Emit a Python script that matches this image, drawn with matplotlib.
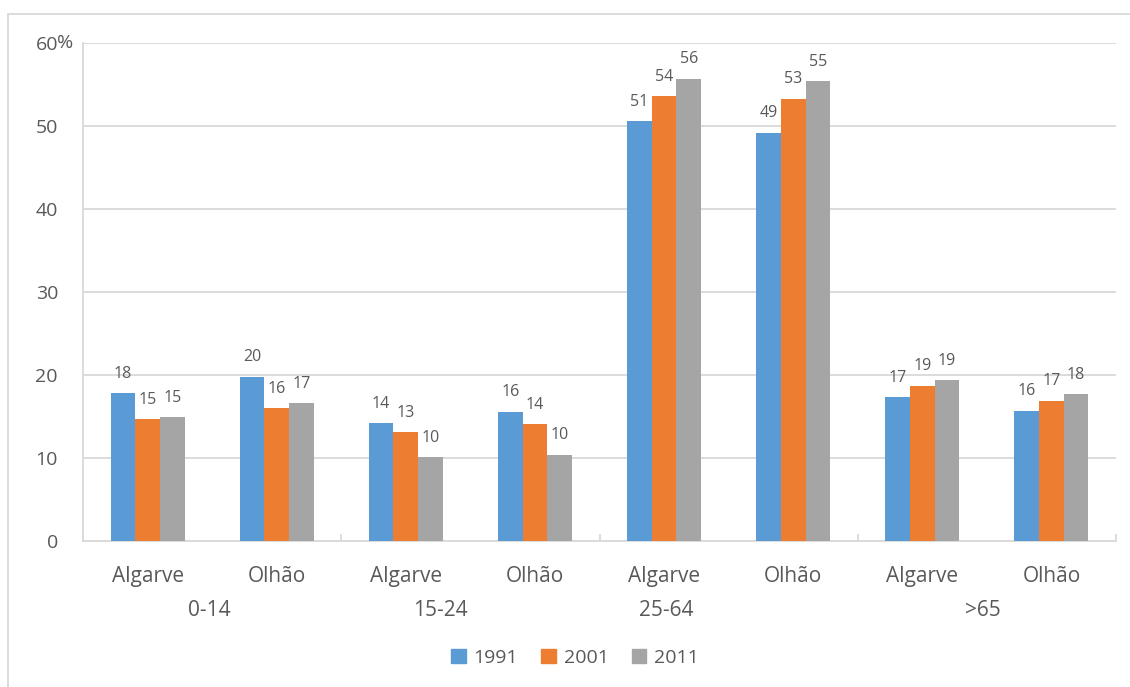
import numpy as np
import matplotlib
matplotlib.use('Agg')
import matplotlib.pyplot as plt
from matplotlib.patches import Patch, Rectangle
import matplotlib.transforms as mtransforms

plt.rcParams['font.family'] = ['Open Sans', 'DejaVu Sans']

# Data
categories = ['Algarve', 'Olhão', 'Algarve', 'Olhão', 'Algarve', 'Olhão', 'Algarve', 'Olhão']
groups = ['0-14', '15-24', '25-64', '>65']
group_label_x = [0.98, 2.77, 4.52, 6.97]   # where the group labels sit (category units)
years = ['1991', '2001', '2011']
v1991 = [17.8, 19.8, 14.2, 15.6, 50.6, 49.2, 17.3, 15.7]
v2001 = [14.7, 16.0, 13.1, 14.1, 53.6, 53.3, 18.7, 16.9]
v2011 = [14.9, 16.6, 10.1, 10.4, 55.7, 55.4, 19.4, 17.7]
colors = ['#5B9BD5', '#ED7D31', '#A5A5A5']

text_col = '#595959'
grid_col = '#D9D9D9'

W, H = 1130, 687
fig = plt.figure(figsize=(W / 100, H / 100), dpi=100)
ax = fig.add_axes([83 / W, 1 - 541 / H, (1116 - 83) / W, (541 - 43) / H])

x = np.arange(len(categories)) + 0.5
w = 0.191
for i, (yr, vals) in enumerate(zip(years, [v1991, v2001, v2011])):
    pos = x + (i - 1) * w
    ax.bar(pos, vals, w, color=colors[i], linewidth=0, zorder=3)
    for px, v in zip(pos, vals):
        ax.annotate(f'{v:.0f}', (px, v), xytext=(0, 14), textcoords='offset points',
                    ha='center', va='center', fontsize=11.5, color=text_col)

ax.set_xlim(0, 8)
ax.set_ylim(0, 60)
ax.set_yticks(range(0, 61, 10))
ax.set_yticklabels([str(t) for t in range(0, 61, 10)])
ax.tick_params(axis='y', length=0, pad=18, labelsize=14, labelcolor=text_col)
ax.annotate('%', (0, 60), xytext=(-26, 0), textcoords='offset pixels',
            xycoords=('axes fraction', 'data'), ha='left', va='center',
            fontsize=14, color=text_col)

ax.set_xticks(x)
ax.set_xticklabels(categories)
ax.tick_params(axis='x', which='major', length=0, pad=18, labelsize=15, labelcolor=text_col)
ax.set_xticks([0, 2, 4, 6, 8], minor=True)
ax.tick_params(axis='x', which='minor', direction='in', length=5, width=1.3, color=grid_col)

trans = mtransforms.blended_transform_factory(ax.transData, ax.transAxes)
for gx, g in zip(group_label_x, groups):
    ax.text(gx, -0.14, g, transform=trans, ha='center', va='center',
            fontsize=15, color=text_col)

ax.grid(axis='y', color=grid_col, linewidth=1.3, zorder=0)
ax.set_axisbelow(True)
for s in ['top', 'right']:
    ax.spines[s].set_visible(False)
for s in ['left', 'bottom']:
    ax.spines[s].set_color(grid_col)
    ax.spines[s].set_linewidth(1.3)

handles = [Patch(color=c, label=y) for c, y in zip(colors, years)]
fig.legend(handles=handles, loc='center', bbox_to_anchor=(575 / W, 1 - 658 / H), ncol=3,
           frameon=False, handlelength=0.75, handleheight=0.75, handletextpad=0.4,
           columnspacing=1.2, fontsize=14, labelcolor=text_col)

fig.add_artist(Rectangle((8 / W, -0.1), 1.2, 1 - 14 / H + 0.1, transform=fig.transFigure,
                         fill=False, edgecolor=grid_col, linewidth=1.3))

fig.savefig('out.png', dpi=100)
